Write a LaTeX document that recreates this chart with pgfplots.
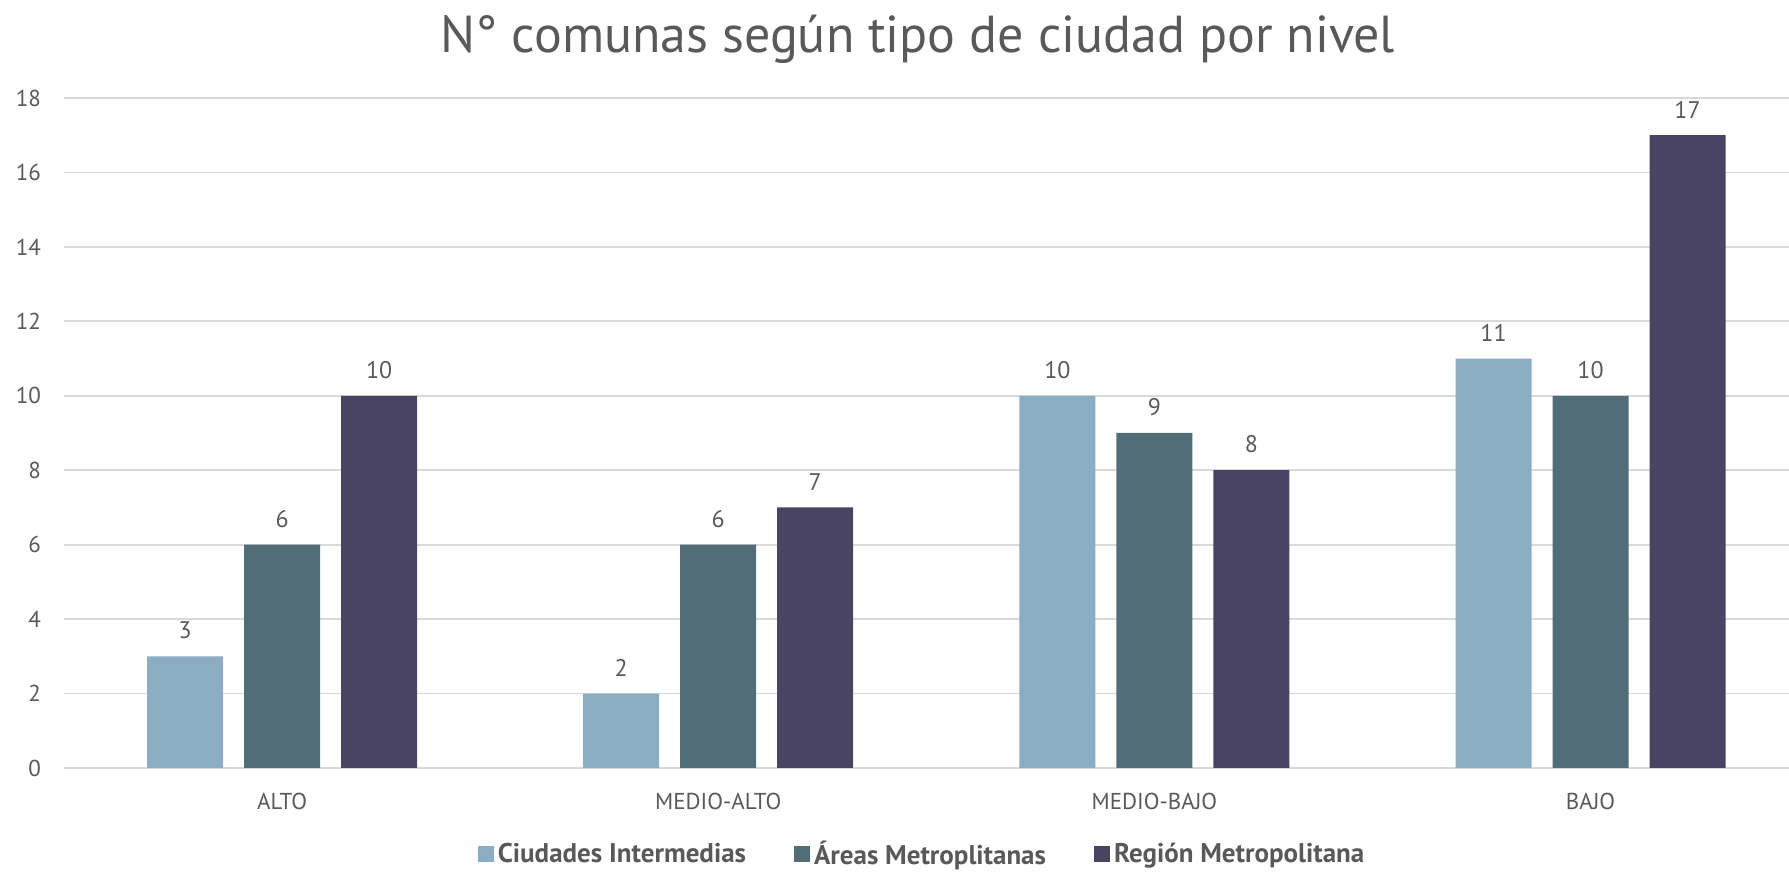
\documentclass[border=0pt]{standalone}
\usepackage{pgfplots}
\pgfplotsset{compat=1.18}
\usepackage{fontspec}
\setmainfont{PT Sans}
\definecolor{c1}{HTML}{8BADC3}
\definecolor{c2}{HTML}{506D78}
\definecolor{c3}{HTML}{4A4463}
\definecolor{txt}{HTML}{595959}
\definecolor{gridc}{HTML}{D9D9D9}
\begin{document}
\begin{tikzpicture}
\useasboundingbox (0,0) rectangle (894.5pt,436pt);
\begin{axis}[
 at={(32pt,52pt)}, anchor=south west,
 scale only axis, width=862.5pt, height=335pt,
 ymin=0, ymax=18, ytick={0,2,...,18},
 xmin=-0.5, xmax=3.455,
 xtick={0,1,2,3}, xticklabels={ALTO,MEDIO-ALTO,MEDIO-BAJO,BAJO},
 ymajorgrids, grid style={gridc, line width=0.9pt},
 axis line style={draw=none},
 major tick length=0pt,
 tick label style={font=\fontsize{11.5}{13}\selectfont, text=txt},
 /pgf/number format/assume math mode=true,
 yticklabel style={xshift=-8pt},
 xticklabel style={yshift=-9pt},
 ybar=10.5pt, bar width=38pt,
 nodes near coords,
 nodes near coords style={font=\fontsize{12}{14}\selectfont, text=txt, yshift=5pt},
 legend style={at={(0.498,-0.129)}, anchor=center, draw=none, legend columns=-1,
   font=\bfseries\fontsize{13.5}{15}\selectfont, text=txt,
   /tikz/every even column/.append style={column sep=22pt}},
 legend image code/.code={\fill[#1] (0pt,-4pt) rectangle (8pt,4pt);},
]
\addplot[fill=c1, draw=none] coordinates {(0,3) (1,2) (2,10) (3,11)};
\addplot[fill=c2, draw=none] coordinates {(0,6) (1,6) (2,9) (3,10)};
\addplot[fill=c3, draw=none] coordinates {(0,10) (1,7) (2,8) (3,17)};
\legend{Ciudades Intermedias, Áreas Metroplitanas, Región Metropolitana}
\end{axis}
\node[font=\fontsize{26}{30}\selectfont, text=txt] at (459pt,416.5pt) {N° comunas según tipo de ciudad por nivel};
\end{tikzpicture}
\end{document}
